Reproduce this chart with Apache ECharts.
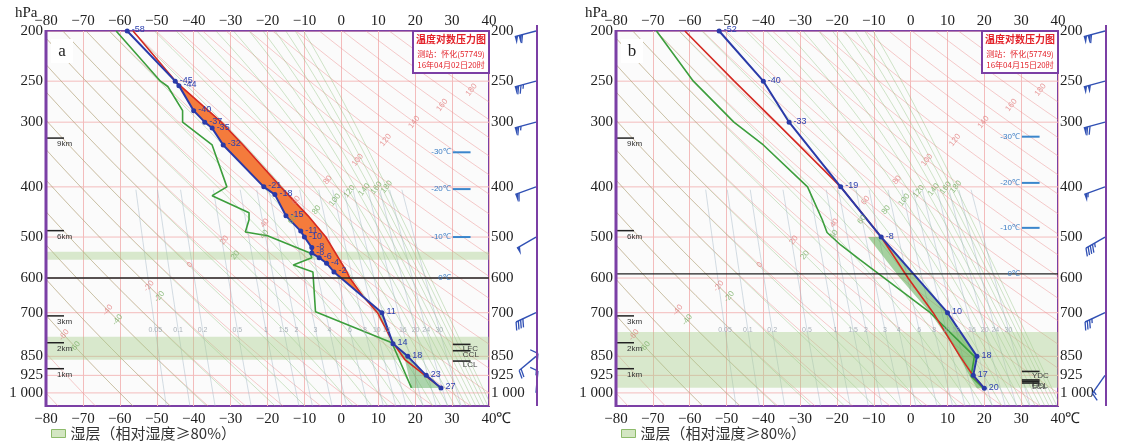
<!DOCTYPE html>
<html>
<head>
<meta charset="utf-8">
<script src="https://cdn.jsdelivr.net/npm/echarts@6/dist/echarts.min.js"></script>
<style>
  html, body { margin: 0; padding: 0; background: #fff; }
  #main { width: 1122px; height: 446px; }
</style>
</head>
<body>
<div id="main"></div>
<script>
// 温度对数压力图 a: 2016-04-02 20时, b: 2016-04-15 20时  (怀化 57749)
const pTicks = [200, 250, 300, 400, 500, 600, 700, 850, 925, 1000];
const P_TOP = 200, P_BOT = 1060;

// a
const tempA_p = [200, 250, 255, 285, 300, 308, 332, 400, 414, 455, 487, 500, 524, 537, 548, 562, 584, 700, 804, 850, 925, 978];
const tempA_t = [-58, -45, -44, -40, -37, -35, -32, -21, -18, -15, -11, -10, -8, -8, -6, -4, -2, 11, 14, 18, 23, 27];
const dewA_p = [200, 250, 256, 285, 300, 332, 400, 416, 449, 463, 489, 497, 537, 548, 566, 584, 697, 800, 978];
const dewA_t = [-61, -49, -47, -43, -43, -35, -31, -35, -25, -25, -26, -20, -8.5, -8, -13, -7.7, -7, 13.7, 19];
const parcelA_p = [978, 862, 800, 700, 650, 600, 584, 500, 455, 400, 332, 300, 252, 200];
const parcelA_t = [27, 17.2, 14, 9.8, 5.8, 2.3, 1.5, -4.2, -9, -16.4, -26.6, -32.5, -44.5, -56.4];
const cinA_p = [650, 700, 804, 850, 925, 978, 978, 862, 800, 700];
const cinA_t = [5.8, 11, 14, 18, 23, 27, 19, 17.2, 14, 9.8];
const wetA = [[534, 553], [779, 863]];
const zeroA = 600;
const isoA_p = [343, 404, 500, 600];
const stabA_name = ['LFC', 'CCL', 'LCL'];
const stabA_p = [806, 829, 868];
const windA_p = [200, 250, 300, 400, 500, 700, 850, 925, 1000];
const windA_dir = [255, 255, 255, 250, 240, 245, 230, 5, 5];
const windA_spd = [44, 30, 26, 24, 20, 16, 8, 4, 4];

// b
const tempB_p = [200, 250, 300, 400, 500, 700, 850, 925, 980];
const tempB_t = [-52, -40, -33, -19, -8, 10, 18, 17, 20];
const dewB_p = [200, 250, 300, 332, 400, 463, 490, 518, 553, 700, 850, 928, 980];
const dewB_t = [-69, -59, -48, -40, -28, -24, -22.7, -19, -13.8, 5.3, 17.3, 16.4, 19.8];
const parcelB_p = [980, 925, 850, 700, 600, 500, 400, 300, 250, 200];
const parcelB_t = [20, 16.9, 13.4, 6.1, -0.7, -8, -19, -36.6, -47.9, -61.3];
const fillB_p = [500, 700, 850, 925, 980, 980, 931, 810, 700, 600, 500];
const fillB_t = [-8, 10, 18, 17, 20, 18, 16.1, 11.5, 5.3, -2.9, -11.6];
const wetB = [[763, 977]];
const zeroB = 589;
const isoB_p = [320, 393, 480, 589];
const stabB_name = ['YDC', 'EL', 'CCL', 'LCL'];
const stabB_p = [909, 944, 950, 957];
const windB_p = [200, 250, 300, 400, 500, 700, 925];
const windB_dir = [255, 255, 255, 250, 240, 245, 215];
const windB_spd = [44, 40, 28, 22, 18, 14, 6];

// 共用
const isoT = [-30, -20, -10, 0];
const heightKm = [9, 6, 3, 2, 1];
const heightP = [322, 486, 710, 800, 898];
const thetaList = [-80, -70, -60, -50, -40, -30, -20, -10, 0, 10, 20, 30, 40, 50, 60, 70, 80, 90, 100, 110, 120, 130, 140, 150, 160, 170, 180];
const thetaLabel = [-60, -40, -20, 0, 20, 40, 60, 80, 100, 120, 140, 160, 180];
const thetaLabelP = [773, 692, 622, 566, 507, 470, 425, 388, 355, 325, 300, 278, 260];
const thseList = [-60, -50, -40, -30, -20, -10, 0, 10, 20, 30, 40, 50, 60, 70, 80, 90, 100, 110, 120, 130, 140, 150, 160, 170, 180];
const thseLabel = [-60, -40, -20, 20, 40, 60, 80, 100, 120, 140, 160, 180];
const thseLabelP = [815, 723, 652, 542, 494, 463, 443, 424, 408, 405, 402, 400];
const mixList = [0.05, 0.1, 0.2, 0.5, 1, 1.5, 2, 3, 4, 6, 8, 10, 12, 16, 20, 24, 30];
const mixLabelP = 755;

const WET = '湿层（相对湿度≥80%）';
const PURPLE = '#7b3fa5';
const SERIF = 'Liberation Serif';
const SANS = 'Liberation Sans';

// 横轴内部取 T+100，使 0 不落在坐标范围内（刻度文字再减回去）
const T_OFF = 100;
const tx = t => t + T_OFF;
const lp = p => Math.log(p);
const zip = (t, p) => t.map((v, i) => [v, p[i]]);
const pText = p => (p === 1000 ? '1 000' : String(p));

// 热力学底图线
const K = 0.2857;
const es = t => 6.112 * Math.exp(17.67 * t / (t + 243.5));
const dryT = (th, p) => (th + 273.15) * Math.pow(p / 1000, K) - 273.15;
function thetaSe(t, p) {
  const tk = t + 273.15, e = es(t), w = 0.622 * e / (p - e);
  return tk * Math.pow(1000 / p, K) * Math.exp(2.5e6 * w / (1004 * tk));
}
function moistT(th, p) {
  const target = th + 273.15;
  let lo = -130, hi = 50;
  for (let i = 0; i < 40; i++) {
    const m = (lo + hi) / 2;
    if (thetaSe(m, p) > target) hi = m; else lo = m;
  }
  return (lo + hi) / 2;
}
function mixT(w, p) {
  const a = Math.log(w * p / (622 + w) / 6.112);
  return 243.5 * a / (17.67 - a);
}
const levels = [];
for (let p = P_TOP; p < P_BOT; p *= 1.04) levels.push(p);
levels.push(P_BOT);

const dryCurves = thetaList.map(th => levels.map(p => [dryT(th, p), p]));
const moistCurves = thseList.map(th => levels.map(p => [moistT(th, p), p]));
const mixCurves = mixList.map(w => levels.filter(p => p >= 400).map(p => [mixT(w, p), p]));

const chart = echarts.init(document.getElementById('main'));

const anchor = i => [tx(-80), lp(500), i];

function lineGroup(gi, curves, style, z) {
  return {
    type: 'custom', xAxisIndex: gi * 2, yAxisIndex: gi, silent: true, z, clip: true,
    data: curves.map((c, i) => anchor(i)),
    renderItem: (params, api) => ({
      type: 'polyline',
      shape: { points: curves[params.dataIndex].map(d => api.coord([tx(d[0]), lp(d[1])])) },
      style: Object.assign({ fill: 'none' }, style)
    })
  };
}
function polyGroup(gi, polys, style, z, name) {
  const s = {
    type: 'custom', xAxisIndex: gi * 2, yAxisIndex: gi, silent: true, z, clip: true,
    data: polys.map((c, i) => anchor(i)),
    renderItem: (params, api) => ({
      type: 'polygon',
      shape: { points: polys[params.dataIndex].map(d => api.coord([tx(d[0]), lp(d[1])])) },
      style: Object.assign({}, style)
    })
  };
  if (name) { s.name = name; s.itemStyle = { color: style.fill }; }
  return s;
}
function profile(gi, pts, color, width, withDots) {
  return {
    type: 'line', xAxisIndex: gi * 2, yAxisIndex: gi, z: 6, silent: true,
    data: pts.map(d => [tx(d[0]), lp(d[1])]),
    lineStyle: { color, width },
    itemStyle: { color },
    symbol: withDots ? 'circle' : 'none',
    symbolSize: 5,
    showSymbol: withDots,
    label: withDots ? {
      show: true, position: 'right', distance: 2, offset: [0, -1],
      fontSize: 9, fontFamily: SANS, color: '#2b3fae',
      formatter: p => String(Math.round(p.value[0] - T_OFF))
    } : { show: false }
  };
}

function barb(x, y, dir, spd, color) {
  const r = dir * Math.PI / 180;
  const ux = Math.sin(r), uy = -Math.cos(r);
  const bx = uy, by = -ux;
  const L = 22, B = 8;
  const kids = [];
  kids.push({ type: 'line', shape: { x1: x, y1: y, x2: x + ux * L, y2: y + uy * L }, style: { stroke: color, lineWidth: 1.4 } });
  let s = L, rest = spd;
  while (rest >= 20) {
    const p0 = [x + ux * s, y + uy * s], p1 = [x + ux * (s - 3.5), y + uy * (s - 3.5)];
    kids.push({ type: 'polygon', shape: { points: [p0, [p0[0] + bx * B, p0[1] + by * B], p1] }, style: { fill: color } });
    s -= 4; rest -= 20;
  }
  while (rest >= 4) {
    const p0 = [x + ux * s, y + uy * s];
    kids.push({ type: 'line', shape: { x1: p0[0], y1: p0[1], x2: p0[0] + bx * B + ux * 3, y2: p0[1] + by * B + uy * 3 }, style: { stroke: color, lineWidth: 1.3 } });
    s -= 2.5; rest -= 4;
  }
  if (rest >= 2) {
    const p0 = [x + ux * s, y + uy * s];
    kids.push({ type: 'line', shape: { x1: p0[0], y1: p0[1], x2: p0[0] + bx * B / 2 + ux * 1.5, y2: p0[1] + by * B / 2 + uy * 1.5 }, style: { stroke: color, lineWidth: 1.3 } });
  }
  return kids;
}

function decor(gi, P) {
  return {
    type: 'custom', xAxisIndex: gi * 2, yAxisIndex: gi, silent: true, z: 7, clip: false,
    data: [anchor(0)],
    renderItem: (params, api) => {
      const c = (t, p) => api.coord([tx(t), lp(p)]);
      const kids = [];
      const txt = (x, y, text, st, rot) => kids.push({
        type: 'text', x, y, rotation: rot || 0,
        style: Object.assign({ text, fontSize: 8, fontFamily: SANS, align: 'left', verticalAlign: 'middle' }, st)
      });
      const seg = (a, b, stroke, w) => kids.push({ type: 'line', shape: { x1: a[0], y1: a[1], x2: b[0], y2: b[1] }, style: { stroke, lineWidth: w } });
      // 气压刻度（左右两侧）
      pTicks.forEach(p => {
        const l = c(-80, p), r = c(40, p);
        txt(l[0] - 3, l[1], pText(p), { fontSize: 15, fontFamily: SERIF, fill: '#222', align: 'right' });
        txt(r[0] + 2, r[1], pText(p), { fontSize: 15, fontFamily: SERIF, fill: '#222', align: 'left' });
      });
      // 底图标注
      thetaLabel.forEach((th, i) => {
        const [x, y] = c(dryT(th, thetaLabelP[i]), thetaLabelP[i]);
        txt(x, y, String(th), { fill: 'rgba(225,120,120,0.75)', align: 'center' }, 0.9);
      });
      thseLabel.forEach((th, i) => {
        const [x, y] = c(moistT(th, thseLabelP[i]), thseLabelP[i]);
        txt(x, y, String(th), { fill: 'rgba(120,175,100,0.8)', align: 'center' }, 0.9);
      });
      mixList.forEach(w => {
        const [x, y] = c(mixT(w, mixLabelP), mixLabelP);
        txt(x, y, String(w), { fill: 'rgba(150,160,170,0.8)', align: 'center', fontSize: 7 });
      });
      // 0℃层
      seg(c(-80, P.zero), c(40, P.zero), '#222', 1.4);
      // 高度
      heightKm.forEach((km, i) => {
        const [x, y] = c(-80, heightP[i]);
        seg([x, y], [x + 18, y], '#222', 1.5);
        txt(x + 11, y + 6, km + 'km', { fill: '#333' });
      });
      // 特征温度层
      isoT.forEach((t, i) => {
        const a = c(30.2, P.iso[i]);
        if (t !== 0) seg(a, c(35, P.iso[i]), '#3a86cc', 2);
        txt(a[0] - 2, a[1], t + '℃', { fill: '#3a7cc4', align: 'right' });
      });
      // 特征高度
      P.stabName.forEach((n, i) => {
        const a = c(30.2, P.stabP[i]);
        seg(a, c(35, P.stabP[i]), '#222', 1.6);
        txt(a[0] + 10, a[1] + 4, n, { fill: '#444' });
      });
      // 风羽
      P.windP.forEach((p, i) => {
        const [x, y] = c(40, p);
        barb(x + 47, y, P.windDir[i], P.windSpd[i], '#3050b4').forEach(k => kids.push(k));
      });
      return { type: 'group', children: kids };
    }
  };
}

const panels = [
  {
    temp: zip(tempA_t, tempA_p), dew: zip(dewA_t, dewA_p), parcel: zip(parcelA_t, parcelA_p),
    wet: wetA, zero: zeroA, iso: isoA_p, stabName: stabA_name, stabP: stabA_p,
    windP: windA_p, windDir: windA_dir, windSpd: windA_spd
  },
  {
    temp: zip(tempB_t, tempB_p), dew: zip(dewB_t, dewB_p), parcel: zip(parcelB_t, parcelB_p),
    wet: wetB, zero: zeroB, iso: isoB_p, stabName: stabB_name, stabP: stabB_p,
    windP: windB_p, windDir: windB_dir, windSpd: windB_spd
  }
];

// 不稳定能量（红线暖于蓝线）
const parcelA = zip(parcelA_t, parcelA_p), tempA = zip(tempA_t, tempA_p);
const capeA = parcelA.filter(d => d[1] <= 650 && d[1] >= 252)
  .concat(tempA.filter(d => d[1] < 650 && d[1] > 252));

const series = [];
panels.forEach((P, gi) => {
  series.push(lineGroup(gi, pTicks.map(p => [[-80, p], [40, p]]), { stroke: '#f3bcbc', lineWidth: 1 }, 1));
  series.push(lineGroup(gi, dryCurves, { stroke: 'rgba(236,140,140,0.45)', lineWidth: 1 }, 1));
  series.push(lineGroup(gi, moistCurves, { stroke: 'rgba(120,180,100,0.35)', lineWidth: 1 }, 1));
  series.push(lineGroup(gi, mixCurves, { stroke: 'rgba(160,180,195,0.45)', lineWidth: 1 }, 1));
  series.push(polyGroup(gi, P.wet.map(b => [[-80, b[0]], [40, b[0]], [40, b[1]], [-80, b[1]]]),
    { fill: 'rgba(165,205,135,0.4)' }, 2, WET));
});
series.push(polyGroup(0, [capeA], { fill: '#f47b3c' }, 3));
series.push(polyGroup(0, [zip(cinA_t, cinA_p)], { fill: 'rgba(95,175,95,0.5)' }, 3));
series.push(polyGroup(1, [zip(fillB_t, fillB_p)], { fill: 'rgba(95,175,85,0.55)' }, 3));
panels.forEach((P, gi) => {
  series.push(profile(gi, P.dew, '#3c9e3c', 1.6, false));
  series.push(profile(gi, P.parcel, '#d42a22', 1.6, false));
  series.push(profile(gi, P.temp, '#2a3aa8', 2, true));
  series.push(decor(gi, P));
});

const grids = [
  { left: 46, top: 31, width: 443, height: 375 },
  { left: 616, top: 31, width: 442, height: 375 }
];
const xFmt = v => { const t = Math.round(v - T_OFF); return t < 0 ? '−' + (-t) : String(t); };
const xAxis = [], yAxis = [];
grids.forEach((g, gi) => {
  const base = { gridIndex: gi, type: 'value', min: tx(-80), max: tx(40), interval: 10, axisTick: { show: false }, axisLine: { show: false, onZero: false } };
  xAxis.push(Object.assign({}, base, {
    position: 'bottom',
    axisLabel: { fontFamily: SERIF, fontSize: 15, color: '#222', margin: 6, formatter: xFmt },
    splitLine: { show: true, lineStyle: { color: '#f3bcbc', width: 1 } }
  }));
  xAxis.push(Object.assign({}, base, {
    position: 'top',
    axisLabel: { fontFamily: SERIF, fontSize: 15, color: '#222', margin: 2, formatter: xFmt },
    splitLine: { show: false }
  }));
  // 纵轴只提供坐标换算，刻度文字由 decor 系列绘制
  yAxis.push({
    gridIndex: gi, type: 'value', show: false, inverse: true, min: lp(P_TOP), max: lp(P_BOT),
    axisLine: { show: false, onZero: false }, axisTick: { show: false }, axisLabel: { show: false }, splitLine: { show: false }
  });
});

const legendBase = {
  top: 421, itemWidth: 14, itemHeight: 8, icon: 'rect', selectedMode: false,
  textStyle: { fontFamily: 'Noto Sans CJK SC', fontSize: 15, color: '#333' },
  data: [{ name: WET, itemStyle: { color: '#d3e6c2', borderColor: '#8dbb6a', borderWidth: 1 } }]
};

function titleBox(x, date) {
  return [
    { type: 'rect', z: 100, shape: { x, y: 31, width: 76, height: 42 }, style: { fill: '#fff', stroke: PURPLE, lineWidth: 2 } },
    { type: 'text', z: 101, x: x + 38, y: 39, style: { text: '温度对数压力图', fill: '#e3222a', font: 'bold 10px "Noto Sans CJK SC"', align: 'center', verticalAlign: 'middle' } },
    { type: 'text', z: 101, x: x + 38, y: 54, style: { text: '测站：怀化(57749)', fill: '#e3222a', font: '8px "Noto Sans CJK SC"', align: 'center', verticalAlign: 'middle' } },
    { type: 'text', z: 101, x: x + 38, y: 65, style: { text: date, fill: '#e3222a', font: '8px "Noto Sans CJK SC"', align: 'center', verticalAlign: 'middle' } }
  ];
}
function frameExtras(g, letter) {
  const r = g.left + g.width;
  return [
    { type: 'line', z: 50, shape: { x1: g.left, y1: g.top - 1, x2: g.left, y2: g.top + g.height + 1 }, style: { stroke: PURPLE, lineWidth: 3 } },
    { type: 'line', z: 50, shape: { x1: r + 48, y1: 25, x2: r + 48, y2: g.top + g.height }, style: { stroke: PURPLE, lineWidth: 2 } },
    { type: 'text', z: 50, x: g.left - 31, y: 13, style: { text: 'hPa', font: '15px "Liberation Serif"', fill: '#222', verticalAlign: 'middle' } },
    { type: 'text', z: 50, x: r + 7, y: 419, style: { text: '℃', font: '15px "Liberation Serif"', fill: '#222', verticalAlign: 'middle' } },
    { type: 'rect', z: 50, shape: { x: g.left + 5, y: g.top + 8, width: 22, height: 24 }, style: { fill: '#fff' } },
    { type: 'text', z: 51, x: g.left + 16, y: g.top + 21, style: { text: letter, font: '17px "Liberation Serif"', fill: '#222', align: 'center', verticalAlign: 'middle' } }
  ];
}

const option = {
  animation: false,
  backgroundColor: '#fff',
  grid: grids.map(g => Object.assign({ show: true, borderColor: PURPLE, borderWidth: 2, backgroundColor: '#fbfbfb' }, g)),
  xAxis, yAxis,
  legend: [Object.assign({ left: 46 }, legendBase), Object.assign({ left: 616 }, legendBase)],
  graphic: [].concat(
    frameExtras(grids[0], 'a'), frameExtras(grids[1], 'b'),
    titleBox(413, '16年04月02日20时'), titleBox(982, '16年04月15日20时')
  ),
  series
};

chart.setOption(option);
</script>
</body>
</html>
